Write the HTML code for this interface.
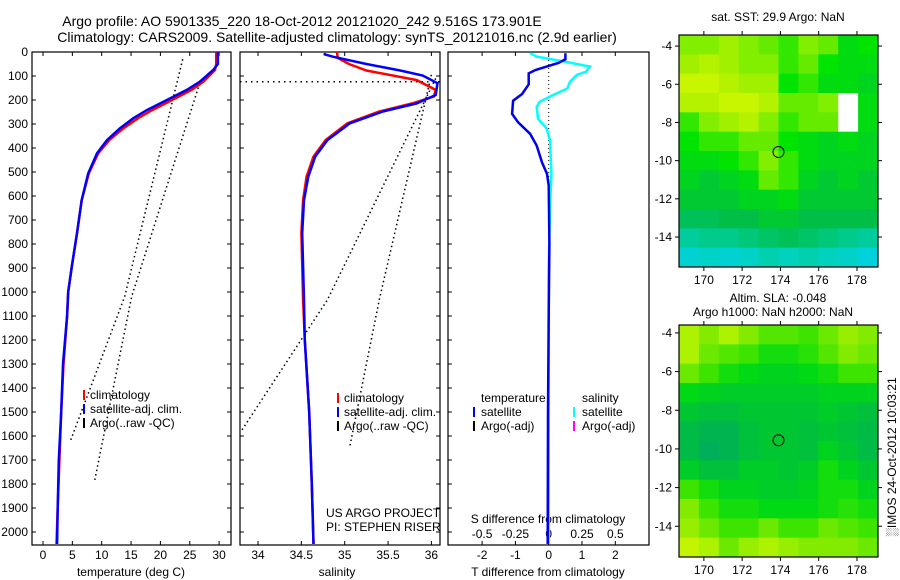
<!DOCTYPE html>
<html><head><meta charset="utf-8"><style>
html,body{margin:0;padding:0;background:#fff;}
svg{display:block;font-family:"Liberation Sans",sans-serif;}
</style></head><body>
<svg id="c" width="900" height="580" viewBox="0 0 900 580"></svg>
<script>
// ---------- data ----------
const tempDepth = [0,50,75,124,158,200,242,276,318,367,422,506,617,755,894,1000,1100,1300,1500,1700,1900,2050];
const tempSat   = [29.8,29.8,29.0,26.7,24.5,21.1,17.7,15.4,13.1,10.9,9.2,7.7,6.6,5.8,4.9,4.3,4.1,3.4,3.1,2.7,2.5,2.4];
const tempClim  = [29.5,29.5,29.3,27.3,25.3,22.0,18.6,16.2,13.7,11.3,9.4,7.8,6.6,5.8,4.9,4.3,4.1,3.5,3.1,2.8,2.5,2.3];
const tempRawDepthA = [30,1020,1625];
const tempRawA = [23.8,13.9,4.6];
const tempRawDepthB = [130,1020,1785];
const tempRawB = [26.7,15.1,8.8];

const salDepth = [4,10,20,50,77,98,130,179,214,248,297,367,436,519,617,755,1033,1200,1500,1800,2050];
const salSat   = [34.77,34.77,34.87,35.25,35.64,35.90,36.07,36.05,35.83,35.44,35.06,34.80,34.66,34.58,34.53,34.51,34.53,34.54,34.59,34.62,34.64];
const salClimDepth = [0,25,50,77,117,158,185,214,248,297,367,436,519,617,755,1033,1200,1500,1800,2050];
const salClim   = [34.91,34.92,35.05,35.25,35.83,36.05,36.03,35.78,35.40,35.03,34.78,34.64,34.56,34.52,34.50,34.52,34.54,34.59,34.62,34.64];
const salRawDepthA = [95,1030,1642];
const salRawA = [36.0,35.40,35.06];
const salRawDepthB = [110,1033,1583];
const salRawB = [36.05,34.80,33.80];
const salRawFlatDepth = 124;

const tDiffDepth = [5,30,45,75,89,135,175,203,258,293,341,390,460,508,556,800,1100,1500,2050];
const tDiff = [0.5,0.5,0.3,-0.4,-0.6,-0.6,-0.8,-1.07,-1.1,-0.92,-0.56,-0.36,-0.2,-0.05,0.0,0.02,0.0,-0.02,-0.03];
const sDiffDepth = [5,19,40,61,82,96,124,152,180,208,229,278,319,368,507,646,900,1500,2050];
const sDiff = [-0.14,-0.09,0.12,0.31,0.28,0.21,0.16,0.14,0.03,-0.07,-0.09,-0.08,-0.015,0.01,0.02,0.01,0.0,0.0,0.0];

const tempTicks = [0,5,10,15,20,25,30];
const salTicks = [34,34.5,35,35.5,36];
const depthTicks = [0,100,200,300,400,500,600,700,800,900,1000,1100,1200,1300,1400,1500,1600,1700,1800,1900,2000];
const tDiffTicks = [-2,-1,0,1,2];
const sDiffTicks = [-0.5,-0.25,0,0.25,0.5];
const sDiffLabels = ["-0.5","-0.25","0","0.25","0.5"];
const lonTicks = [170,172,174,176,178];
const latTicks = [-4,-6,-8,-10,-12,-14];

const sstGrid = [
[30.0,30.0,30.1,30.0,29.9,29.8,30.0,29.9,29.6,29.7],
[30.1,30.2,30.1,30.0,30.0,29.8,29.9,29.7,29.6,29.6],
[30.3,30.3,30.2,30.1,30.1,29.7,29.8,29.6,29.6,29.5],
[30.2,30.2,30.3,30.3,30.2,29.9,29.9,30.0,null,29.6],
[29.8,30.0,30.1,30.2,30.0,29.8,29.9,29.9,null,29.6],
[29.7,29.8,29.8,29.9,29.9,29.7,29.6,29.5,29.6,29.5],
[29.6,29.6,29.7,29.8,30.0,29.8,29.6,29.5,29.5,29.5],
[29.5,29.4,29.5,29.6,29.9,29.8,29.5,29.4,29.5,29.4],
[29.4,29.4,29.4,29.5,29.5,29.6,29.4,29.4,29.4,29.4],
[29.2,29.2,29.3,29.3,29.4,29.4,29.3,29.3,29.3,29.3],
[28.8,28.9,28.9,29.0,29.1,29.2,29.1,29.0,28.9,28.8],
[28.4,28.5,28.4,28.5,28.7,28.6,28.7,28.6,28.5,28.3]];
const slaGrid = [
[0.05,0.03,0.05,0.03,0.01,0.01,0.0,0.02,0.04,0.03],
[0.05,0.02,0.01,0.0,-0.02,-0.02,-0.01,0.01,0.03,0.02],
[0.02,0.0,-0.02,-0.03,-0.04,-0.04,-0.03,-0.02,0.0,0.0],
[-0.03,-0.04,-0.05,-0.05,-0.05,-0.05,-0.05,-0.04,-0.04,-0.04],
[-0.06,-0.07,-0.07,-0.06,-0.06,-0.06,-0.06,-0.05,-0.06,-0.07],
[-0.08,-0.09,-0.09,-0.07,-0.06,-0.06,-0.07,-0.06,-0.07,-0.08],
[-0.08,-0.10,-0.09,-0.07,-0.06,-0.06,-0.07,-0.04,-0.06,-0.08],
[-0.05,-0.07,-0.07,-0.05,-0.05,-0.06,-0.05,-0.02,-0.04,-0.06],
[0.0,-0.02,-0.04,-0.04,-0.05,-0.05,-0.04,-0.02,-0.02,-0.04],
[0.03,0.0,-0.02,-0.02,-0.03,-0.03,-0.03,-0.02,-0.01,-0.02],
[0.04,0.02,0.0,0.0,0.02,0.0,0.0,0.02,0.01,0.0],
[0.06,0.05,0.02,0.04,0.05,0.04,0.03,0.03,0.03,0.02]];
const argoLon = 173.9, argoLat = -9.55;

// ---------- helpers ----------
const svg = document.getElementById('c');
const NS = 'http://www.w3.org/2000/svg';
function mk(tag, attrs, parent){ const e=document.createElementNS(NS,tag); for(const k in attrs) e.setAttribute(k,attrs[k]); (parent||svg).appendChild(e); return e; }
function txt(x,y,s,anchor,size,parent){ const t=mk('text',{x:x,y:y,'font-size':size||12,'text-anchor':anchor||'start',fill:'#000'},parent); t.textContent=s; return t; }
const yD = d => 52 + d*0.24;
const xT = v => 43 + v*5.87;
const xS = v => 258 + (v-34)*86.7;
const xTd = v => 548.7 + v*33.3;
const xSd = v => 548.7 + v*133.2;

function poly(xs, ds, xf, color, w, name){
  const pts = xs.map((v,i)=> xf(v).toFixed(1)+','+yD(ds[i]).toFixed(1)).join(' ');
  const p = mk('polyline',{points:pts,fill:'none',stroke:color,'stroke-width':w,'stroke-dasharray':name.includes('raw')?'1.5 3':'none'});
  
  
  return p;
}
function frame(x0,x1,name){
  const r = mk('rect',{x:x0,y:52,width:x1-x0,height:493,fill:'none',stroke:'#000','stroke-width':1.2});
  
  
}
function xticks(ticks, xf, labels, ylab){
  ticks.forEach((v,i)=>{ const x=xf(v);
    mk('line',{x1:x,y1:52,x2:x,y2:56,stroke:'#000'}); mk('line',{x1:x,y1:545,x2:x,y2:541,stroke:'#000'});
    const t = txt(x,ylab,labels?labels[i]:String(v),'middle');
    
    
  });
}

// ---------- titles ----------
txt(302,26,'Argo profile: AO 5901335_220 18-Oct-2012 20121020_242 9.516S 173.901E','middle',14);
txt(337,42,'Climatology: CARS2009. Satellite-adjusted climatology: synTS_20121016.nc (2.9d earlier)','middle',14);

// ---------- panel 1 temperature ----------
frame(32,231,'temperature-panel');
depthTicks.forEach(d=>{ const y=yD(d); mk('line',{x1:32,y1:y,x2:36,y2:y,stroke:'#000'}); mk('line',{x1:231,y1:y,x2:227,y2:y,stroke:'#000'});
  const t=txt(28,y+4,String(d),'end');   });
xticks(tempTicks, xT, null, 559);
txt(131,576,'temperature (deg C)','middle');
poly(tempRawA, tempRawDepthA, xT, '#000', 1.5, 'temp-argo-raw-a');
poly(tempRawB, tempRawDepthB, xT, '#000', 1.5, 'temp-argo-raw-b');
poly(tempClim, tempDepth, xT, '#f00', 2.5, 'temp-climatology-line');
poly(tempSat, tempDepth, xT, '#00f', 2.5, 'temp-satellite-line');
[['climatology','#f00'],['satellite-adj. clim.','#00f'],['Argo(..raw -QC)','#000']].forEach((L,i)=>{
  const y=398+i*14; mk('rect',{x:83,y:y-8,width:2,height:10,fill:L[1]});
  const t=txt(90,y+1,L[0]);  
});

// ---------- panel 2 salinity ----------
frame(240,440,'salinity-panel');
depthTicks.forEach(d=>{ const y=yD(d); mk('line',{x1:240,y1:y,x2:244,y2:y,stroke:'#000'}); mk('line',{x1:440,y1:y,x2:436,y2:y,stroke:'#000'}); });
xticks(salTicks, xS, null, 559);
txt(337,576,'salinity','middle');
mk('line',{x1:240,y1:yD(salRawFlatDepth),x2:440,y2:yD(salRawFlatDepth),stroke:'#000','stroke-width':1.5,'stroke-dasharray':'1.5 4'});
poly(salRawA, salRawDepthA, xS, '#000', 1.5, 'sal-argo-raw-a');
poly(salRawB, salRawDepthB, xS, '#000', 1.5, 'sal-argo-raw-b');
poly(salClim, salClimDepth, xS, '#f00', 2.5, 'sal-climatology-line');
poly(salSat, salDepth, xS, '#00f', 2.5, 'sal-satellite-line');
[['climatology','#f00'],['satellite-adj. clim.','#00f'],['Argo(..raw -QC)','#000']].forEach((L,i)=>{
  const y=402+i*14; mk('rect',{x:337,y:y-9,width:2,height:10,fill:L[1]});
  const t=txt(344,y,L[0]);  
});
txt(326,517,'US ARGO PROJECT');
txt(326,531,'PI: STEPHEN RISER');

// ---------- panel 3 differences ----------
frame(448,649,'difference-panel');
depthTicks.forEach(d=>{ const y=yD(d); mk('line',{x1:448,y1:y,x2:452,y2:y,stroke:'#000'}); });
xticks(tDiffTicks, xTd, null, 559);
txt(548,576,'T difference from climatology','middle');
sDiffTicks.forEach((v,i)=>{ const t=txt(xSd(v),538,sDiffLabels[i],'middle');   });
txt(548,523,'S difference from climatology','middle');
mk('line',{x1:548.7,y1:52,x2:548.7,y2:yD(560),stroke:'#000','stroke-width':1,'stroke-dasharray':'1 3'});
poly(sDiff, sDiffDepth, xSd, '#00ffff', 2.5, 'salinity-diff-line');
poly(tDiff, tDiffDepth, xTd, '#0000ee', 2.5, 'temperature-diff-line');
txt(481,402,'temperature');
txt(582,402,'salinity');
[['satellite','#00f',473,481,416],['Argo(-adj)','#000',473,481,430],['satellite','#0ff',573,582,416],['Argo(-adj)','#f0f',573,582,430]].forEach(L=>{
  mk('rect',{x:L[2],y:L[4]-9,width:2,height:10,fill:L[1]});
  const t=txt(L[3],L[4],L[0]);  
});

// ---------- maps ----------
function rgb(a){ return 'rgb('+a.map(Math.round).join(',')+')'; }
function lerpColor(stops, v){
  if(v<=stops[0][0]) return rgb(stops[0][1]);
  for(let i=1;i<stops.length;i++){ if(v<=stops[i][0]){ const a=stops[i-1],b=stops[i],f=(v-a[0])/(b[0]-a[0]);
    return rgb(a[1].map((c,k)=>c+(b[1][k]-c)*f)); } }
  return rgb(stops[stops.length-1][1]);
}
const sstStops=[[28.2,[0,210,230]],[28.6,[0,210,190]],[29.0,[0,200,120]],[29.3,[0,190,70]],[29.5,[0,212,30]],[29.7,[0,228,0]],[29.9,[100,235,0]],[30.1,[160,240,0]],[30.3,[200,245,0]]];
const slaStops=[[-0.1,[0,175,90]],[-0.06,[0,198,50]],[-0.03,[0,218,20]],[0,[60,228,0]],[0.03,[130,235,0]],[0.06,[195,245,0]]];
function map(y0,y1,latTop,latBot,grid,stops,name){
  const x0=679,x1=878, lonL=168.7, lonR=179.1;
  const xL = v => x0 + (v-lonL)/(lonR-lonL)*(x1-x0);
  const yL = v => y0 + (latTop-v)/(latTop-latBot)*(y1-y0);
  const g=mk('g',{});  
  const rows=grid.length, cols=grid[0].length, cw=(x1-x0)/cols, ch=(y1-y0)/rows;
  grid.forEach((row,r)=>row.forEach((v,c)=>{
    const cell=mk('rect',{x:x0+c*cw,y:y0+r*ch,width:cw+0.5,height:ch+0.5,fill:v===null?'#fff':lerpColor(stops,v)},g);
    
  }));
  mk('rect',{x:x0,y:y0,width:x1-x0,height:y1-y0,fill:'none',stroke:'#000','stroke-width':1.2});
  lonTicks.forEach(v=>{ const x=xL(v); mk('line',{x1:x,y1:y0,x2:x,y2:y0-4,stroke:'#000'}); mk('line',{x1:x,y1:y1,x2:x,y2:y1+4,stroke:'#000'});
    const t=txt(x,y1+17,String(v),'middle');   });
  latTicks.forEach(v=>{ const y=yL(v); mk('line',{x1:x0,y1:y,x2:x0-4,y2:y,stroke:'#000'}); mk('line',{x1:x1,y1:y,x2:x1+4,y2:y,stroke:'#000'});
    const t=txt(x0-7,y+4,String(v),'end');   });
  const m=mk('circle',{cx:xL(argoLon),cy:yL(argoLat),r:5.5,fill:'none',stroke:'#000','stroke-width':1});
   
}
map(35,267,-3.42,-15.57,sstGrid,sstStops,'sst-map');
map(325,557,-3.59,-15.59,slaGrid,slaStops,'sla-map');
txt(778,21,'sat. SST: 29.9 Argo: NaN','middle');
txt(778,302,'Altim. SLA: -0.048','middle');
txt(773,316,'Argo h1000: NaN h2000: NaN','middle');
const v=txt(0,0,'\u2591IMOS 24-Oct-2012 10:03:21','middle');
v.setAttribute('transform','translate(896,457) rotate(-90)');


</script>
</body></html>
